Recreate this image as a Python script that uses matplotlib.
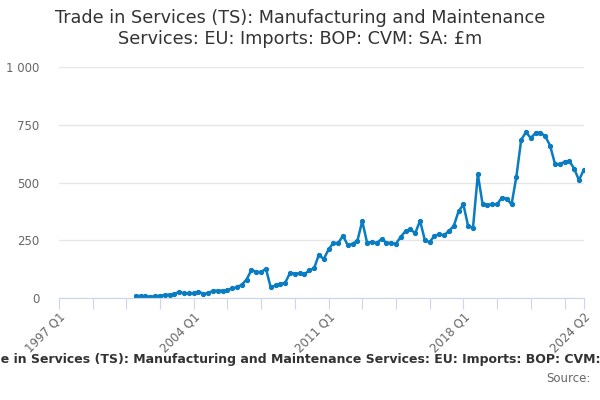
import numpy as np
import matplotlib
matplotlib.use('Agg')
from matplotlib import pyplot as plt

# quarterly series, 1997 Q1 .. 2024 Q2 (first 16 quarters have no data)
start_year = 1997
first_idx = 16
values = [10, 8, 7, 6, 8, 10, 12, 15, 18, 26, 20, 20, 20, 27, 19, 20,
          32, 32, 32, 34, 42, 46, 58, 80, 122, 113, 112, 127, 46, 55,
          60, 66, 108, 106, 107, 102, 120, 128, 188, 168, 210, 238, 237, 270,
          228, 235, 248, 333, 240, 242, 238, 255, 240, 238, 235, 265, 290, 298,
          280, 335, 250, 242, 270, 275, 272, 290, 312, 375, 405, 310, 305, 535,
          405, 403, 405, 405, 435, 430, 405, 525, 685, 718, 692, 715, 716, 700,
          660, 582, 578, 590, 593, 560, 510, 555]
yticks = [0, 250, 500, 750, 1000]
ytick_labels = ['0', '250', '500', '750', '1 000']

n_total = first_idx + len(values)
labels = ['%d Q%d' % (start_year + i // 4, i % 4 + 1) for i in range(n_total)]
x = np.arange(first_idx, n_total)

fig = plt.figure(figsize=(6, 4), dpi=100)
ax = fig.add_axes([0.098, 0.255, 0.875, 0.5775])
ax.plot(x, values, color='#0a7cc1', lw=1.8, marker='o', ms=2.8)

ax.set_xlim(0, n_total - 1)
ax.set_ylim(0, 1000)
ax.set_yticks(yticks)
ax.set_yticklabels(ytick_labels)
ax.grid(axis='y', color='#e6e6e6', lw=1)
ax.set_axisbelow(True)

tick_pos = list(range(0, n_total, 7)) + [n_total - 1]
ax.set_xticks(tick_pos)
ax.set_xticklabels([labels[i] if (i % 28 == 0 or i == n_total - 1) else '' for i in tick_pos],
                   rotation=45, ha='right', rotation_mode='anchor')
ax.tick_params(axis='x', length=8, color='#ccd6eb', labelcolor='#666666', labelsize=8.5, pad=1)
ax.tick_params(axis='y', length=0, labelcolor='#666666', labelsize=8.5, pad=14)

for s in ['top', 'right', 'left']:
    ax.spines[s].set_visible(False)
ax.spines['bottom'].set_color('#ccd6eb')

fig.text(0.5, 0.978, 'Trade in Services (TS): Manufacturing and Maintenance\nServices: EU: Imports: BOP: CVM: SA: £m',
         ha='center', va='top', fontsize=12.7, color='#333333', linespacing=1.25)
fig.text(0.52, 0.1, 'Trade in Services (TS): Manufacturing and Maintenance Services: EU: Imports: BOP: CVM: SA: £m',
         ha='center', va='center', fontsize=9, fontweight='bold', color='#333333')
fig.text(0.985, 0.055, 'Source:', ha='right', va='center', fontsize=8.5, color='#666666')

fig.savefig('out.png', dpi=100)
